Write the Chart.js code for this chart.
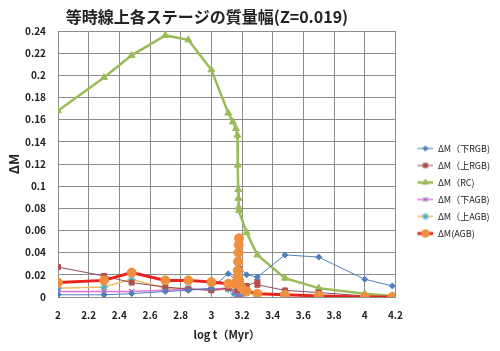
<!DOCTYPE html>
<html>
<head>
<meta charset="utf-8">
<script src="https://cdn.jsdelivr.net/npm/chart.js@4.4.1/dist/chart.umd.min.js"></script>
<style>
  body { margin: 0; background: #fff; }
  #wrap { width: 500px; height: 351px; }
</style>
</head>
<body>
<div id="wrap"><canvas id="lineChart"></canvas></div>
<script>
var chartTitle = "等時線上各ステージの質量幅(Z=0.019)";
var xTitle = "log t（Myr）";
var yTitle = "ΔM";

// ΔM (下RGB)
var rgbLowX = [2, 2.3, 2.48, 2.7, 2.85, 3.0, 3.11, 3.17, 3.18, 3.23, 3.3, 3.48, 3.7, 4.0, 4.18];
var rgbLowY = [0.002, 0.002, 0.003, 0.005, 0.006, 0.008, 0.021, 0.014, 0.027, 0.020, 0.018, 0.038, 0.036, 0.016, 0.010];
// ΔM (上RGB)
var rgbUpX = [2, 2.3, 2.48, 2.7, 2.85, 3.0, 3.11, 3.17, 3.18, 3.2, 3.23, 3.3, 3.3, 3.48, 3.7, 4.0, 4.18];
var rgbUpY = [0.027, 0.019, 0.013, 0.009, 0.007, 0.006, 0.008, 0.006, 0.010, 0.008, 0.010, 0.014, 0.011, 0.006, 0.004, 0.001, 0.0];
// ΔM (RC)
var rcX = [2, 2.3, 2.48, 2.7, 2.85, 3.0, 3.11, 3.14, 3.16, 3.17, 3.172, 3.175, 3.176, 3.178, 3.18, 3.23, 3.3, 3.48, 3.7, 4.0, 4.18];
var rcY = [0.168, 0.198, 0.218, 0.236, 0.232, 0.205, 0.166, 0.158, 0.152, 0.146, 0.119, 0.097, 0.089, 0.081, 0.078, 0.058, 0.038, 0.017, 0.008, 0.003, 0.001];
// ΔM (下AGB)
var agbLowX = [2, 2.3, 2.48, 2.7, 2.85, 3.0, 3.11, 3.15, 3.17, 3.18, 3.2];
var agbLowY = [0.005, 0.005, 0.005, 0.006, 0.007, 0.007, 0.008, 0.004, 0.002, 0.001, 0.0];
// ΔM (上AGB)
var agbUpX = [2, 2.3, 2.48, 2.7, 2.85, 3.0, 3.11, 3.15, 3.17, 3.18, 3.2];
var agbUpY = [0.008, 0.009, 0.016, 0.008, 0.008, 0.006, 0.007, 0.003, 0.002, 0.001, 0.0];
// ΔM (AGB)
var agbX = [2, 2.3, 2.48, 2.7, 2.85, 3.0, 3.11, 3.15, 3.17, 3.172, 3.174, 3.176, 3.178, 3.18, 3.182, 3.19, 3.2, 3.23, 3.3, 3.48, 3.7, 4.0, 4.18];
var agbY = [0.013, 0.015, 0.022, 0.015, 0.015, 0.0135, 0.012, 0.012, 0.018, 0.024, 0.032, 0.040, 0.047, 0.053, 0.015, 0.010, 0.008, 0.005, 0.003, 0.002, 0.001, 0.0, 0.0];

var seriesLabels = ["ΔM（下RGB)", "ΔM（上RGB)", "ΔM（RC)", "ΔM（下AGB)", "ΔM（上AGB)", "ΔM(AGB)"];

function toPoints(xs, ys) {
    return xs.map((x, i) => ({ x: x, y: ys[i] }));
}

Chart.defaults.font.family = "'Noto Sans CJK JP', 'Noto Sans', sans-serif";
Chart.defaults.color = "#222";

var datasets = [
    {
        label: seriesLabels[0],
        data: toPoints(rgbLowX, rgbLowY),
        borderColor: "#4F81BD",
        borderWidth: 1,
        pointStyle: "rectRot",
        pointRadius: 3,
        pointBackgroundColor: "#4F81BD",
        pointBorderColor: "#4F81BD",
        pointBorderWidth: 1,
        order: 1,
    },
    {
        label: seriesLabels[1],
        data: toPoints(rgbUpX, rgbUpY),
        borderColor: "#8E4A5C",
        borderWidth: 1,
        pointStyle: "rect",
        pointRadius: 3.5,
        pointBackgroundColor: "#B0504D",
        pointBorderColor: "#B0504D",
        pointBorderWidth: 1,
        order: 2,
    },
    {
        label: seriesLabels[2],
        data: toPoints(rcX, rcY),
        borderColor: "#9BBB59",
        borderWidth: 2.5,
        pointStyle: "triangle",
        pointRadius: 4,
        pointBackgroundColor: "#9BBB59",
        pointBorderColor: "#9BBB59",
        pointBorderWidth: 1,
        order: 3,
    },
    {
        label: seriesLabels[3],
        data: toPoints(agbLowX, agbLowY),
        borderColor: "#E070E0",
        borderWidth: 1.5,
        pointStyle: "crossRot",
        pointRadius: 3.5,
        pointBackgroundColor: "#9070B0",
        pointBorderColor: "#9070B0",
        pointBorderWidth: 1.2,
        order: 4,
    },
    {
        label: seriesLabels[4],
        data: toPoints(agbUpX, agbUpY),
        borderColor: "#F2BC66",
        borderWidth: 1.5,
        pointStyle: "star",
        pointRadius: 4,
        pointBackgroundColor: "#4BACC6",
        pointBorderColor: "#4BACC6",
        pointBorderWidth: 1.2,
        order: 5,
    },
    {
        label: seriesLabels[5],
        data: toPoints(agbX, agbY),
        borderColor: "#E8231C",
        borderWidth: 3,
        pointStyle: "circle",
        pointRadius: 4.5,
        pointBackgroundColor: "#F0903E",
        pointBorderColor: "#F0903E",
        pointBorderWidth: 1,
        order: 0,
    },
];

// legend icon: a short line with the marker on it
function makeIcon(ds) {
    var c = document.createElement("canvas");
    c.width = 30;
    c.height = 12;
    var ctx = c.getContext("2d");
    ctx.strokeStyle = ds.borderColor;
    ctx.lineWidth = ds.borderWidth;
    ctx.beginPath();
    ctx.moveTo(14, 6);
    ctx.lineTo(30, 6);
    ctx.stroke();
    ctx.fillStyle = ds.pointBackgroundColor;
    ctx.strokeStyle = ds.pointBorderColor;
    ctx.lineWidth = ds.pointBorderWidth;
    Chart.helpers.drawPoint(
        ctx,
        { pointStyle: ds.pointStyle, radius: ds.pointRadius * 0.85, rotation: 0, borderWidth: ds.pointBorderWidth },
        22,
        6
    );
    return c;
}
var legendIcons = datasets.map(makeIcon);

var titlePlugin = {
    id: "sheetTitle",
    afterDraw: function (chart) {
        var ctx = chart.ctx;
        ctx.save();
        ctx.font = "bold 16px 'Noto Sans CJK JP'";
        ctx.fillStyle = "#222";
        ctx.textAlign = "center";
        ctx.textBaseline = "middle";
        ctx.fillText(chartTitle, 207, 17);
        ctx.restore();
    },
};

var fmt = (v) => String(Math.round(v * 1000) / 1000);

new Chart(document.getElementById("lineChart").getContext("2d"), {
    type: "line",
    data: { datasets: datasets },
    plugins: [titlePlugin],
    options: {
        maintainAspectRatio: false,
        responsive: true,
        animation: false,
        layout: { padding: { top: 31, right: 0, bottom: 0, left: 0 } },
        elements: { line: { tension: 0 } },
        plugins: {
            tooltip: { enabled: false },
            legend: {
                position: "right",
                align: "center",
                labels: {
                    usePointStyle: true,
                    pointStyleWidth: 30,
                    padding: 8,
                    color: "#222",
                    font: { size: 9 },
                    sort: (a, b) => a.datasetIndex - b.datasetIndex,
                    generateLabels: function (chart) {
                        var items = Chart.defaults.plugins.legend.labels.generateLabels(chart);
                        items.forEach(function (item) {
                            item.pointStyle = legendIcons[item.datasetIndex];
                        });
                        return items;
                    },
                },
            },
        },
        scales: {
            x: {
                type: "linear",
                min: 2,
                max: 4.2,
                ticks: {
                    stepSize: 0.2,
                    padding: 12,
                    maxRotation: 0,
                    font: { size: 10, weight: "bold" },
                    callback: fmt,
                },
                grid: { color: "#8C8C8C", drawTicks: false },
                border: { color: "#8C8C8C" },
                title: {
                    display: true,
                    text: xTitle,
                    font: { size: 11, weight: "bold" },
                    padding: { top: 0, bottom: 10 },
                },
                afterFit: function (scale) {
                    scale.height = 54;
                },
            },
            y: {
                min: 0,
                max: 0.24,
                ticks: {
                    stepSize: 0.02,
                    padding: 12,
                    font: { size: 10, weight: "bold" },
                    callback: fmt,
                },
                grid: { color: "#8C8C8C", drawTicks: false },
                border: { color: "#8C8C8C" },
                title: {
                    display: true,
                    text: yTitle,
                    font: { size: 13, weight: "bold" },
                    padding: { top: 6, bottom: 0 },
                },
                afterFit: function (scale) {
                    scale.width = 58;
                },
            },
        },
    },
});
</script>
</body>
</html>
